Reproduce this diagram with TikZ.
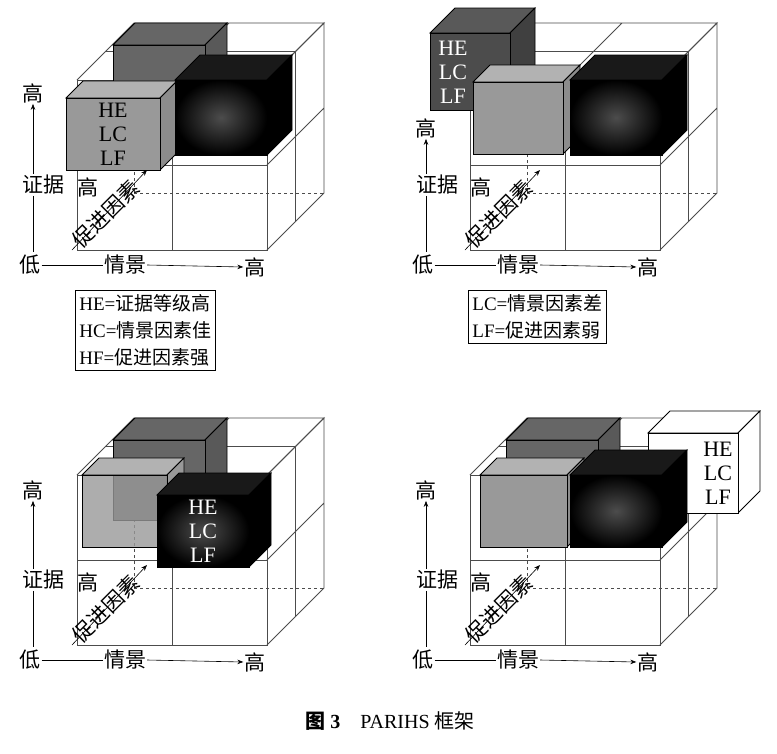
\documentclass[tikz,border=0pt]{standalone}
\usepackage{fontspec}
\setmainfont{Liberation Serif}
\newfontfamily\cjk{Noto Sans CJK SC}
\usetikzlibrary{arrows.meta}
\tikzset{
  wire/.style={draw=black!70,line width=0.9pt},
  lab/.style={font=\cjk\fontsize{21}{24}\selectfont,inner sep=1pt},
  cubetxt/.style={font=\fontsize{22}{24}\selectfont,align=center,inner sep=0pt},
  ax/.style={line width=0.6pt,-{Stealth[length=6pt]}},
  box/.style={draw,line width=0.8pt,font=\fontsize{19}{27}\selectfont,align=left,inner sep=4pt}
}
% cube: x y w h d front top side
\newcommand{\mycube}[8]{%
  \draw[line width=0.8pt,fill=#6] (#1,#2) -- ++(#5,-#5) -- ++(#3,0) -- ++(-#5,#5) -- cycle;
  \draw[line width=0.8pt,fill=#7] ({#1+#3},#2) -- ++(#5,-#5) -- ++(0,#4) -- ++(-#5,#5) -- cycle;
  \draw[line width=0.8pt,#8] (#1,#2) rectangle ++(#3,#4);
}
\newcommand{\myframe}{%
  \draw[black!70,dashed,line width=0.7pt] (134,193) -- (324,193) (134,193) -- (134,23);
  \draw[wire] (77,80) rectangle (267,250) (172,80) -- (172,250) (77,165) -- (267,165);
  \draw[wire] (77,80) -- (134,23) -- (324,23) -- (267,80) (172,80) -- (229,23) (105.5,51.5) -- (295.5,51.5);
  \draw[wire] (267,80) -- (324,23) -- (324,193) -- (267,250) (267,165) -- (324,108) (295.5,51.5) -- (295.5,221.5);
}
\newcommand{\myaxes}[2]{%
  \node[lab] (#1h) at (33,#2) {高};
  \node[lab] (#1e) at (44,185) {证据};
  \node[lab] (#1l) at (30,265) {低};
  \node[lab] (#1c) at (125,265) {情景};
  \node[lab] (#1r) at (255,267) {高};
  \node[lab] (#1p) at (88,187) {高};
  \coordinate (#1o) at (72,250);
  \coordinate (#1t) at (147,170);
  \draw[line width=0.6pt] (#1e.south -| #1h) -- (33,252);
  \draw[ax] (#1e.north -| #1h) -- (#1h.south);
  \draw[line width=0.6pt] (#1l.east) -- (#1c.west);
  \draw[ax] (#1c.east) -- (#1r.west);
  \draw[ax] (#1o) -- (#1t);
  \node[lab,rotate=45] (#1f) at (106,214) {促进因素};
}
\begin{document}
\begin{tikzpicture}[x=1pt,y=-1pt]
\useasboundingbox (0,0) rectangle (777,753);
\fill[white] (0,0) rectangle (777,753);
% panel 1
\begin{scope}
\myframe
\mycube{113}{45}{92}{80}{22}{black!60}{black!65}{fill=black!60}
\mycube{66}{98}{94}{72}{17}{black!30}{black!45}{fill=black!40}
\mycube{175}{80}{92}{75}{25}{black!90}{black}{shading=radial,inner color=black!70,outer color=black}
\node[cubetxt] (t1) at (113,134) {HE\\LC\\LF};
\myaxes{a}{93}
\end{scope}
% panel 2
\begin{scope}[shift={(393,0)}]
\myframe
\mycube{37}{33}{80}{77}{25}{black!65}{black!75}{fill=black!70}
\node[cubetxt,white] (t2) at (60,72) {HE\\LC\\LF};
\mycube{80}{82}{90}{72}{17}{black!30}{black!45}{fill=black!40}
\mycube{177}{80}{92}{75}{25}{black!90}{black}{shading=radial,inner color=black!70,outer color=black}
\myaxes{b}{128}
\end{scope}
% panel 3
\begin{scope}[shift={(0,395)}]
\myframe
\mycube{113}{45}{92}{80}{22}{black!60}{black!65}{fill=black!60}
\mycube{82}{80}{85}{72}{17}{black!30}{black!40}{fill=black!40,fill opacity=0.8}
\mycube{157}{100}{92}{72}{22}{black!90}{black}{shading=radial,inner color=black!70,outer color=black}
\node[cubetxt,white] (t3) at (203,136) {HE\\LC\\LF};
\myaxes{c}{95}
\end{scope}
% panel 4
\begin{scope}[shift={(393,395)}]
\myframe
\mycube{113}{45}{92}{80}{22}{black!60}{black!65}{fill=black!60}
\mycube{255}{38}{90}{80}{22}{white}{white}{fill=white}
\node[cubetxt] (t4) at (325,78) {HE\\LC\\LF};
\mycube{87}{80}{87}{72}{17}{black!30}{black!45}{fill=black!40}
\mycube{177}{80}{92}{72}{25}{black!90}{black}{shading=radial,inner color=black!70,outer color=black}
\myaxes{d}{95}
\end{scope}
% legends
\node[box,anchor=north west] (lg1) at (75,290) {HE=\cjk 证据等级高\\HC=\cjk 情景因素佳\\HF=\cjk 促进因素强};
\node[box,anchor=north west] (lg2) at (468,290) {LC=\cjk 情景因素差\\LF=\cjk 促进因素弱};
\node[font=\fontsize{20}{22}\selectfont] (cap) at (390,721) {{\cjk\bfseries 图} \textbf{3}\quad PARIHS {\cjk 框架}};
\end{tikzpicture}
\end{document}
